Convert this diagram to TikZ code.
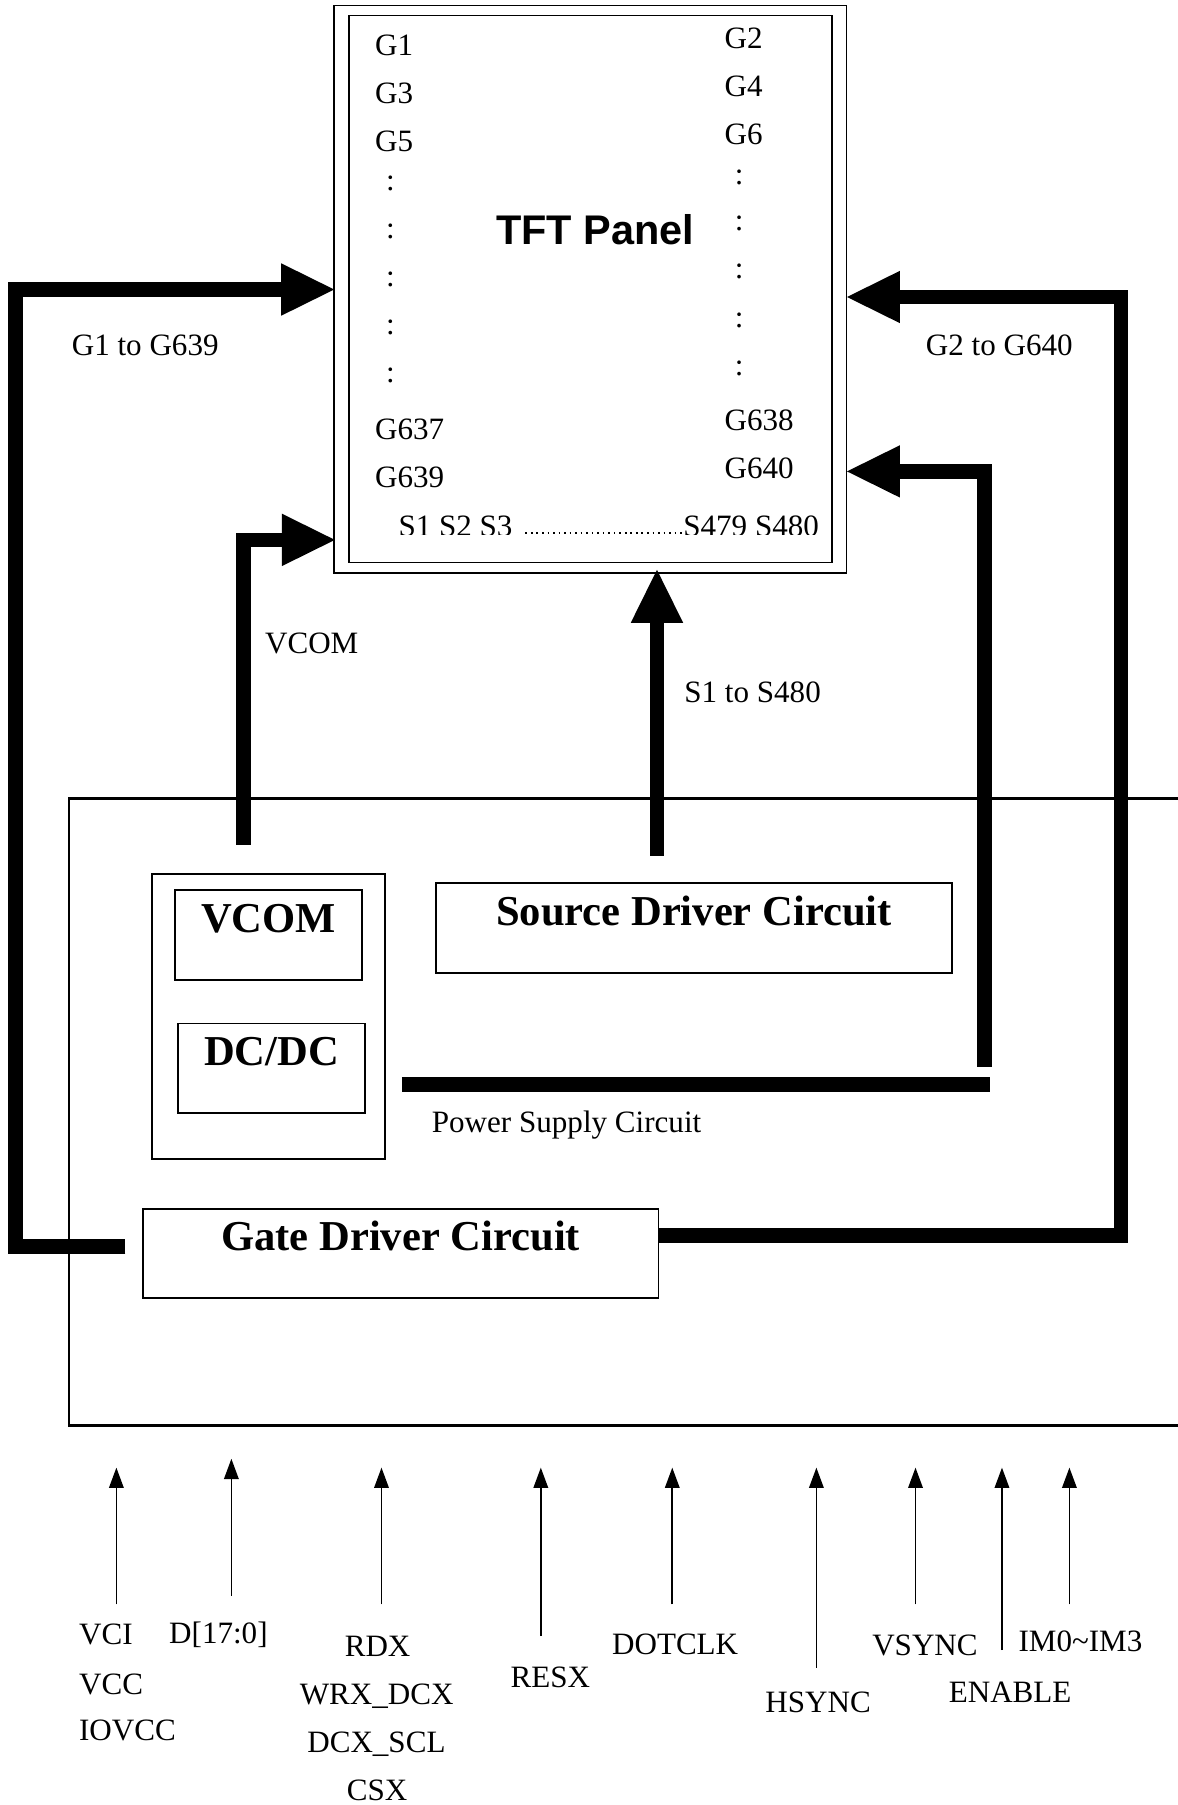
\documentclass[tikz,border=0pt]{standalone}
\usepackage{fontspec}
\setmainfont{Liberation Serif}
\newfontfamily\panelfont{Liberation Sans}
\usetikzlibrary{arrows.meta,positioning,calc}

\begin{document}
\begin{tikzpicture}[x=1pt,y=-1pt,
  txt/.style={inner sep=0,font=\fontsize{27}{32}\selectfont},
  frame/.style={draw,line width=1.6pt,inner sep=0},
  blk/.style={frame,text height=36.7pt,text depth=41.3pt,font=\bfseries\fontsize{37}{44}\selectfont},
  bus/.style={line width=12.7pt,-{Triangle[length=46pt,width=45.5pt,line width=0pt]}},
  bar/.style={line width=12.7pt},
  pin/.style={line width=1.5pt,-{Triangle[length=17.5pt,width=13pt,line width=0pt]}}]
\useasboundingbox (0,0) rectangle (1023,1568);
% TFT panel
\node[frame,minimum width=445pt,minimum height=493.1pt] (panel) at (512.8,251.35) {};
\node[frame,minimum width=419.5pt,minimum height=475.1pt] (panelin) at (512.75,251.05) {};
\node[inner sep=0,anchor=base,font=\panelfont\bfseries\fontsize{36}{43}\selectfont] (tft) at (517,212) {TFT Panel};
\node[txt,anchor=base west] (g1) at (325.7,48.2) {G1};
\node[txt,anchor=base west] (g3) at (325.7,90) {G3};
\node[txt,anchor=base west] (g5) at (325.7,131.7) {G5};
\node[txt,anchor=base west] (g637) at (325.7,382) {G637};
\node[txt,anchor=base west] (g639) at (325.7,423.5) {G639};
\node[txt,anchor=base west] (g2) at (629.3,41.8) {G2};
\node[txt,anchor=base west] (g4) at (629.3,84) {G4};
\node[txt,anchor=base west] (g6) at (629.3,125.3) {G6};
\node[txt,anchor=base west] (g638) at (629.3,374) {G638};
\node[txt,anchor=base west] (g640) at (629.3,416) {G640};
\foreach \y [count=\i] in {165.2,207,248.8,290.2,332.2} \node[txt,anchor=base] (lc\i) at (339.2,\y) {:};
\foreach \y [count=\i] in {160.2,200.6,242.2,284.2,325.9} \node[txt,anchor=base] (rc\i) at (642.1,\y) {:};
\begin{scope}
\clip (292,430) rectangle (733,464.6);
\node[txt,anchor=base west] (s1) at (346,466) {S1 S2 S3};
\node[txt,anchor=base west] (s479) at (593.4,466) {S479 S480};
\end{scope}
\draw[line width=1.4pt,dash pattern=on 1.4pt off 3.4pt] ($(s1.base east)+(11,-2.8)$) -- ($(s479.base west)+(0,-2.8)$);
% driver IC
\node[frame,line width=2pt,minimum width=970pt,minimum height=544.7pt] (chip) at (545,965.95) {};
\node[frame,minimum width=202.9pt,minimum height=247.3pt] (power) at (233.25,883.15) {};
\node[blk,minimum width=162.5pt] (vcom) at (233.25,812.4) {VCOM};
\node[blk,minimum width=162.4pt] (dcdc) at (235.8,928.1) {DC/DC};
\node[blk,minimum width=448.9pt] (source) at (602.85,806.3) {Source Driver Circuit};
\node[blk,minimum width=448pt] (gate) at (348,1088.9) {Gate Driver Circuit};
\node[txt,anchor=base west] (pwrlbl) at (375,983.4) {Power Supply Circuit};
% buses
\coordinate (gl) at (109,1083); \coordinate (gin) at (290.3,251.5);
\coordinate (gr) at ([yshift=15.9pt]gate.east); \coordinate (gin2) at (735.8,258);
\coordinate (vc) at (211.3,734); \coordinate (vin) at (290.9,469);
\coordinate (sd) at (570.7,743.3); \coordinate (sin) at (570.7,495);
\coordinate (pwl) at (349,942.2); \coordinate (pwr) at (860,942.2);
\coordinate (pv) at (855.4,926.5); \coordinate (pin) at (735.8,409.5);
\draw[bus] (gl) -- (13.3,1083) |- (gin);
\draw[bus] (gr) -- (973.7,1073) |- (gin2);
\draw[bus] (vc) |- (vin);
\draw[bus] (sd) -- (sin);
\draw[bar] (pwl) -- (pwr);
\draw[bus] (pv) |- (pin);
\node[txt,anchor=base west] (lg1) at (62.2,308.9) {G1 to G639};
\node[txt,anchor=base west] (lg2) at (804.2,309.2) {G2 to G640};
\node[txt,anchor=base west] (lvcom) at (230.1,568) {VCOM};
\node[txt,anchor=base west] (ls) at (594.3,610.2) {S1 to S480};
% interface pins
\foreach \x/\yb/\yt [count=\i] in {101.1/1393.8/1275,201/1386/1267.3,331.4/1393.8/1275,469.8/1421.3/1275,584/1393.8/1275,709.2/1448.8/1275,795.3/1393.8/1275,870.4/1433.5/1275,929/1393.8/1275}{
  \coordinate (pb\i) at (\x,\yb); \coordinate (pt\i) at (\x,\yt);
  \draw[pin] (pb\i) -- (pt\i);}
\node[txt,anchor=base west] (vci) at (68.5,1428.5) {VCI};
\node[txt,anchor=base west] (vcc) at (68.5,1472) {VCC};
\node[txt,anchor=base west] (iovcc) at (68.5,1512) {IOVCC};
\node[txt,anchor=base west] (data) at (146.8,1427.7) {D[17:0]};
\node[txt,anchor=base] (rdx) at (328,1438.7) {RDX};
\node[txt,anchor=base] (wrx) at (327.2,1480.6) {WRX\_DCX};
\node[txt,anchor=base] (dcx) at (327,1522.6) {DCX\_SCL};
\node[txt,anchor=base] (csx) at (327.5,1564) {CSX};
\node[txt,anchor=base] (resx) at (478,1466) {RESX};
\node[txt,anchor=base] (dotclk) at (586.5,1437.2) {DOTCLK};
\node[txt,anchor=base] (hsync) at (710.7,1487.9) {HSYNC};
\node[txt,anchor=base] (vsync) at (803.5,1438) {VSYNC};
\node[txt,anchor=base] (enable) at (877.5,1478.6) {ENABLE};
\node[txt,anchor=base] (im) at (938.6,1434.3) {IM0\textasciitilde IM3};
\end{tikzpicture}
\end{document}
